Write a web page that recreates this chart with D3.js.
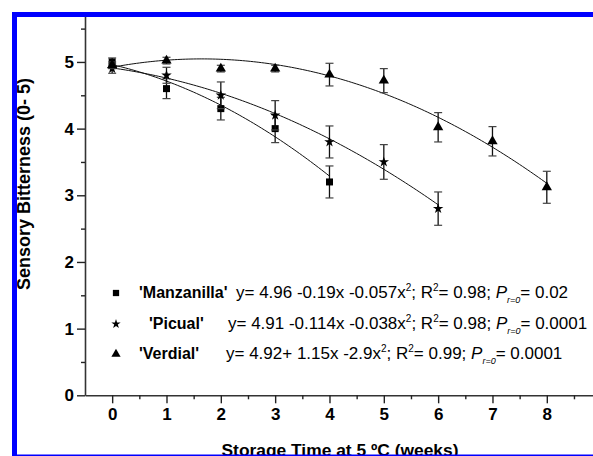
<!DOCTYPE html>
<meta charset="utf-8">
<style>
body { margin: 0; background: #fff; }
text { font-family: "Liberation Sans", Arial, sans-serif; }
</style>
<svg width="593" height="456"></svg>
<script src="https://cdn.jsdelivr.net/npm/d3@7/dist/d3.min.js"></script>
<script>

// storage time (weeks) and mean bitterness scores
var weeks = [0, 1, 2, 3, 4, 5, 6, 7, 8];

var manzanilla    = [5.0, 4.6, 4.3, 4.0, 3.2];
var manzanillaErr = [0.06, 0.15, 0.17, 0.21, 0.24];

var picual    = [4.9, 4.8, 4.5, 4.2, 3.8, 3.5, 2.8];
var picualErr = [0.07, 0.12, 0.2, 0.22, 0.24, 0.26, 0.25];

var verdial    = [4.95, 5.02, 4.9, 4.9, 4.81, 4.72, 4.02, 3.81, 3.12];
var verdialErr = [0.05, 0.05, 0.05, 0.05, 0.17, 0.18, 0.22, 0.22, 0.24];

// quadratic fits as drawn (a + b*x + c*x^2)
var fitManzanilla = [4.96, -0.19, -0.057];
var fitPicual     = [4.91, -0.114, -0.038];
var fitVerdial    = [4.92, 0.1525, -0.04625];

var yTicks = [0, 1, 2, 3, 4, 5];
var yMinor = [0.5, 1.5, 2.5, 3.5, 4.5, 5.5];
var xMinor = [0.5, 1.5, 2.5, 3.5, 4.5, 5.5, 6.5, 7.5, 8.5];

var legendNames = ["'Manzanilla'", "'Picual'", "'Verdial'"];
var legendEq    = ["y= 4.96 -0.19x -0.057x", "y= 4.91 -0.114x -0.038x", "y= 4.92+ 1.15x -2.9x"];
var legendR2    = ["0.98", "0.98", "0.99"];
var legendP     = ["0.02", "0.0001", "0.0001"];

var svg = d3.select("svg");

var x = d3.scaleLinear().domain([-0.5, 9]).range([85, 85 + 9.5 * 54.33]);
var y = d3.scaleLinear().domain([0, 5.7]).range([395.3, 395.3 - 5.7 * 66.67]);

var series = [
  { vals: manzanilla, err: manzanillaErr, fit: fitManzanilla, sym: d3.symbolSquare, size: 49 },
  { vals: picual, err: picualErr, fit: fitPicual, sym: d3.symbolStar, size: 34 },
  { vals: verdial, err: verdialErr, fit: fitVerdial, sym: d3.symbolTriangle, size: 46 }
];

// axes
svg.append("g").attr("transform", "translate(85,0)")
  .call(d3.axisLeft(y).tickValues(yTicks).tickFormat(d3.format("d"))
    .tickSize(8).tickSizeOuter(0).tickPadding(3));
svg.append("g").attr("transform", "translate(85,0)")
  .call(d3.axisLeft(y).tickValues(yMinor).tickSize(4).tickFormat("").tickSizeOuter(0))
  .select(".domain").remove();

svg.append("g").attr("transform", "translate(0,395.3)")
  .call(d3.axisBottom(x).tickValues(weeks).tickFormat(d3.format("d"))
    .tickSize(8).tickSizeOuter(0).tickPadding(5));
svg.append("g").attr("transform", "translate(0,395.3)")
  .call(d3.axisBottom(x).tickValues(xMinor).tickSize(4).tickFormat("").tickSizeOuter(0))
  .select(".domain").remove();

svg.selectAll(".domain").attr("stroke", "#333").attr("stroke-width", 1.6);
svg.selectAll(".tick line").attr("stroke", "#222").attr("stroke-width", 1.4);
svg.selectAll(".tick text").attr("font-size", 17).attr("font-weight", "bold")
  .attr("fill", "#000").style("font-family", "'Liberation Sans', Arial, sans-serif");

// fitted curves
var line = d3.line().x(function(d) { return x(d[0]); }).y(function(d) { return y(d[1]); });
series.forEach(function(s) {
  var xmax = s.vals.length - 1;
  var pts = d3.range(0, xmax + 0.001, 0.05).map(function(t) {
    return [t, s.fit[0] + s.fit[1] * t + s.fit[2] * t * t];
  });
  svg.append("path").attr("d", line(pts)).attr("fill", "none")
    .attr("stroke", "#111").attr("stroke-width", 1);
});

// error bars + markers
series.forEach(function(s) {
  var g = svg.append("g");
  s.vals.forEach(function(v, i) {
    var cx = x(weeks[i]), top = y(v + s.err[i]), bot = y(v - s.err[i]);
    g.append("line").attr("x1", cx).attr("x2", cx).attr("y1", top).attr("y2", bot)
      .attr("stroke", "#111").attr("stroke-width", 1.3);
    [top, bot].forEach(function(yy) {
      g.append("line").attr("x1", cx - 4).attr("x2", cx + 4).attr("y1", yy).attr("y2", yy)
        .attr("stroke", "#444").attr("stroke-width", 1.2);
    });
  });
  g.selectAll("path").data(s.vals).enter().append("path")
    .attr("d", d3.symbol().type(s.sym).size(s.size))
    .attr("transform", function(d, i) { return "translate(" + x(weeks[i]) + "," + y(d) + ")"; })
    .attr("fill", "#000");
});

// legend
var rowY = [298, 329, 359];
var nameX = [139, 149, 139];
var eqX = [236, 228, 226];
series.forEach(function(s, i) {
  svg.append("path").attr("d", d3.symbol().type(s.sym).size(s.size * 0.8))
    .attr("transform", "translate(116," + (rowY[i] - 5) + ")").attr("fill", "#000");
  svg.append("text").attr("x", nameX[i]).attr("y", rowY[i])
    .attr("font-size", 16).attr("font-weight", "bold").text(legendNames[i]);
  var t = svg.append("text").attr("x", eqX[i]).attr("y", rowY[i]).attr("font-size", 17);
  t.append("tspan").text(legendEq[i]);
  t.append("tspan").attr("font-size", 10).attr("dy", -7).text("2");
  t.append("tspan").attr("dy", 7).text("; R");
  t.append("tspan").attr("font-size", 10).attr("dy", -7).text("2");
  t.append("tspan").attr("dy", 7).text("= " + legendR2[i] + "; ");
  t.append("tspan").attr("font-style", "italic").text("P");
  t.append("tspan").attr("font-size", 9).attr("font-style", "italic").attr("dy", 5).text("r=0");
  t.append("tspan").attr("dy", -5).text("= " + legendP[i]);
});

// axis titles
svg.append("text").attr("transform", "translate(30,184) rotate(-90)")
  .attr("text-anchor", "middle").attr("font-size", 18).attr("font-weight", "bold")
  .text("Sensory Bitterness (0- 5)");
svg.append("text").attr("x", 340).attr("y", 456)
  .attr("text-anchor", "middle").attr("font-size", 17.4).attr("font-weight", "bold")
  .text("Storage Time at 5 ºC (weeks)");

// blue frame of the cropped figure
svg.append("rect").attr("x", 12).attr("y", 12).attr("width", 581).attr("height", 5).attr("fill", "#0000ff");
svg.append("rect").attr("x", 12).attr("y", 12).attr("width", 5).attr("height", 444).attr("fill", "#0000ff");
svg.append("rect").attr("x", 12).attr("y", 454.5).attr("width", 581).attr("height", 1.5).attr("fill", "#0000ff");

</script>
